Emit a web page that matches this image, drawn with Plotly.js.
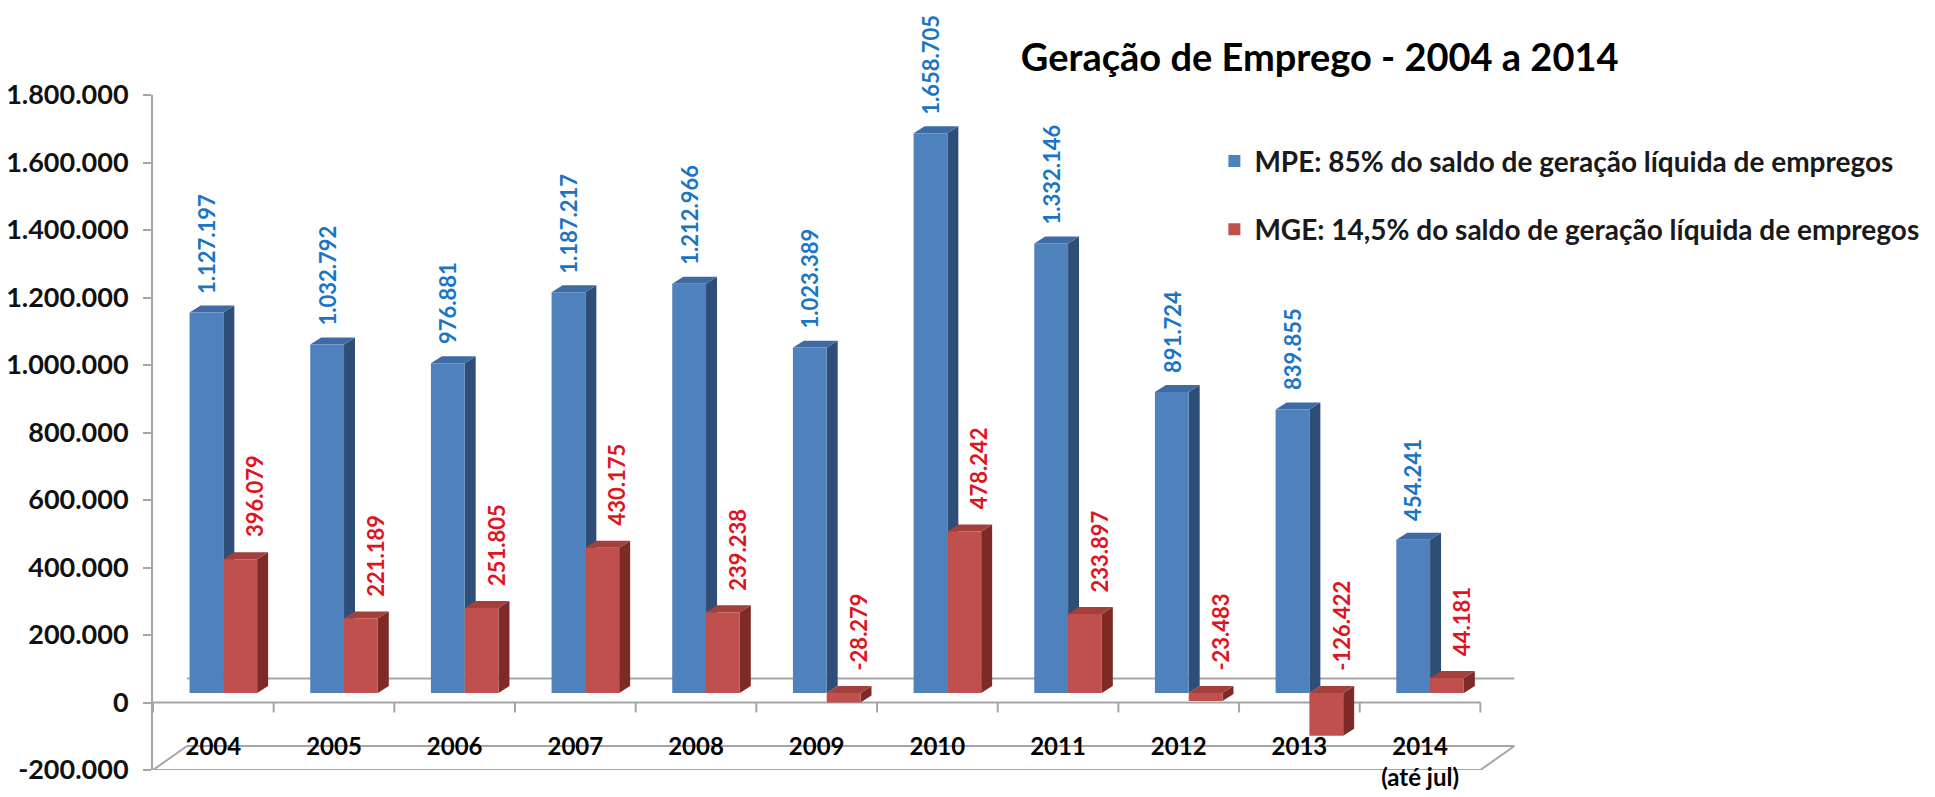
<!DOCTYPE html>
<html><head><meta charset="utf-8">
<script src="https://cdn.plot.ly/plotly-3.0.1.min.js"></script>
<style>html,body{margin:0;padding:0;background:#fff}#chart{width:1935px;height:797px}</style>
</head><body><div id="chart"></div>
<script>
// ---------- DATA ----------
const years = ['2004','2005','2006','2007','2008','2009','2010','2011','2012','2013','2014'];
const yearLabels = ['2004','2005','2006','2007','2008','2009','2010','2011','2012','2013','2014<br>(até jul)'];
const mpe = [1127197,1032792,976881,1187217,1212966,1023389,1658705,1332146,891724,839855,454241];
const mge = [396079,221189,251805,430175,239238,-28279,478242,233897,-23483,-126422,44181];
const seriesNames = ['MPE: 85% do saldo de geração líquida de empregos','MGE: 14,5% do saldo de geração líquida de empregos'];
const yTickVals = [-200000,0,200000,400000,600000,800000,1000000,1200000,1400000,1600000,1800000];
const yTickText = ['-200.000','0','200.000','400.000','600.000','800.000','1.000.000','1.200.000','1.400.000','1.600.000','1.800.000'];
const titleText = 'Geração de Emprego - 2004 a 2014';

// ---------- STYLE ----------
const FONT = 'Lato, "Open Sans", sans-serif';
const GRAY = '#A6A6A6';
const X_RANGE = [-0.5, 10.82];
const Y_RANGE = [-200000, 1800000];
const Y2_RANGE = [-228100, 1771900];      // bar plane sits a little behind the front axis
const SHIFT = 0.083, W = 0.28;             // bar placement inside a category
const BDX = 0.091, BDY = 20700;            // bar depth
const FDX = 0.282, FDY = 71100;            // floor depth
const TICK = 29600;

const xs = years.map((_, i) => i);
const n = years.length;
const fmt = v => (v < 0 ? '-' : '') + Math.abs(v).toString().replace(/\B(?=(\d{3})+(?!\d))/g, '.');
const b = s => '<b>' + s + '</b>';

const traces = [
  {type:'bar', x:xs, y:mpe, yaxis:'y2', name:b(seriesNames[0]), width:W, offset:SHIFT - W,
   marker:{color:'#4F81BD', line:{width:0}}, legendgroup:'a', hoverinfo:'skip'},
  {type:'bar', x:xs, y:mge, yaxis:'y2', name:b(seriesNames[1]), width:W, offset:SHIFT,
   marker:{color:'#C0504D', line:{width:0}}, legendgroup:'b', hoverinfo:'skip'}
];

const shapes = [];
function line(x0,y0,x1,y1){
  shapes.push({type:'line', xref:'x', yref:'y', x0, y0, x1, y1, layer:'below', line:{color:GRAY, width:2}});
}
const xl = -0.5, xr = n - 0.5;
line(xl + FDX, FDY, xr + FDX, FDY);                       // back wall at 0
line(xl, 0, xr, 0);                                       // front 0 line
for (let k = 0; k <= n; k++) line(k - 0.5, 0, k - 0.5, -TICK);
line(xl, Y_RANGE[0], xr, Y_RANGE[0]);                     // floor front
line(xl + FDX, Y_RANGE[0] + FDY, xr + FDX, Y_RANGE[0] + FDY); // floor back
line(xl, Y_RANGE[0], xl + FDX, Y_RANGE[0] + FDY);
line(xr, Y_RANGE[0], xr + FDX, Y_RANGE[0] + FDY);

function faces(vals, off, sideCol, topCol){
  vals.forEach((v, i) => {
    const a = i + off, c = a + W;
    const lo = Math.min(0, v), hi = Math.max(0, v);
    shapes.push({type:'path', xref:'x', yref:'y2', layer:'below', line:{width:0}, fillcolor:sideCol,
      path:`M${c},${lo} L${c},${hi} L${c+BDX},${hi+BDY} L${c+BDX},${lo+BDY} Z`});
    shapes.push({type:'path', xref:'x', yref:'y2', layer:'below', line:{width:0}, fillcolor:topCol,
      path:`M${a},${hi} L${c},${hi} L${c+BDX},${hi+BDY} L${a+BDX},${hi+BDY} Z`});
  });
}
faces(mpe, SHIFT - W, '#2E4E78', '#3E6BA3');
faces(mge, SHIFT, '#7E2B28', '#A33F3C');

const annotations = [];
mpe.forEach((v, i) => annotations.push({x: i + SHIFT - W/2, y: v, xref:'x', yref:'y2', text: b(fmt(v)),
  textangle:-90, showarrow:false, xanchor:'center', yanchor:'bottom', yshift:17,
  font:{family:FONT, size:22, color:'#1A75C4'}}));
mge.forEach((v, i) => annotations.push({x: i + SHIFT + W/2 + 0.12, y: Math.max(0, v), xref:'x', yref:'y2', text: b(fmt(v)),
  textangle:-90, showarrow:false, xanchor:'center', yanchor:'bottom', yshift:20,
  font:{family:FONT, size:22, color:'#E0141E'}}));

const layout = {
  width:1935, height:797,
  paper_bgcolor:'#fff', plot_bgcolor:'rgba(0,0,0,0)',
  margin:{l:153, r:416, t:95, b:27, autoexpand:false},
  barmode:'overlay',
  title:{text:titleText, xref:'container', x:0.682, xanchor:'center', yref:'container', y:0.927, yanchor:'middle',
    font:{family:FONT, size:38, color:'#000', weight:'bold'}},
  xaxis:{range:X_RANGE, tickvals:xs, ticktext:yearLabels.map(b), anchor:'free', position:0.059,
    showline:false, ticks:'', showgrid:false, zeroline:false, fixedrange:true,
    tickfont:{family:FONT, size:24, color:'#000'}},
  yaxis:{range:Y_RANGE, tickvals:yTickVals, ticktext:yTickText.map(b), showline:true, linecolor:GRAY, linewidth:2,
    ticks:'outside', ticklen:8, tickcolor:GRAY, tickwidth:2, ticklabelstandoff:9, showgrid:false, zeroline:false, fixedrange:true,
    tickfont:{family:FONT, size:27, color:'#111'}},
  yaxis2:{range:Y2_RANGE, overlaying:'y', anchor:'x', visible:false, fixedrange:true},
  showlegend:true,
  legend:{x:0.777, y:0.939, xanchor:'left', yanchor:'top', traceorder:'grouped', tracegroupgap:29,
    itemwidth:30, bgcolor:'rgba(0,0,0,0)', font:{family:FONT, size:28, color:'#1a1a1a'}},
  shapes, annotations
};
Plotly.newPlot('chart', traces, layout, {displayModeBar:false, staticPlot:true});
</script></body></html>
